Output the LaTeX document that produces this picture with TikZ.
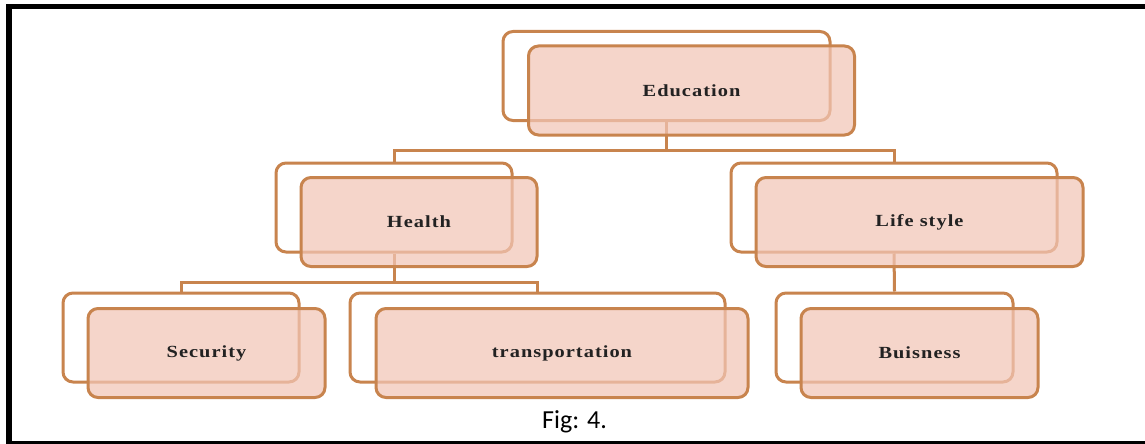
\documentclass[tikz,border=0pt]{standalone}
\usepackage{fontspec}
\setmainfont{Liberation Serif}
\newfontfamily\boxfont[LetterSpace=5]{Liberation Serif}
\newfontfamily\capfont{Carlito}
\definecolor{edge}{HTML}{C8844E}
\definecolor{pinkfill}{HTML}{F2C6B6}
\definecolor{txt}{HTML}{222222}
\newcommand{\boxtext}[1]{\scalebox{1.2}[1]{\boxfont\bfseries\fontsize{17}{19}\selectfont #1}}
\tikzset{
  backbox/.style={draw=edge, line width=3pt, rounded corners=10pt, fill=white,
    minimum height=89pt, inner sep=0pt},
  frontbox/.style={draw=edge, line width=3pt, rounded corners=10pt,
    fill=pinkfill, fill opacity=0.72, text opacity=1, text=txt,
    minimum height=89pt, inner sep=0pt},
  conn/.style={draw=edge, line width=3pt},
  frameline/.style={draw=black}
}
\begin{document}
\begin{tikzpicture}[x=1pt,y=-1pt]
\useasboundingbox (0,0) rectangle (1145,444);
\fill[white] (0,0) rectangle (1145,444);
% frame
\draw[frameline, line width=5pt] (9,7) -- (1145,7);
\draw[frameline, line width=6pt] (9,4.5) -- (9,444);
\draw[frameline, line width=3pt] (6,442.5) -- (1145,442.5);
% back boxes
\node[backbox, minimum width=327pt] (eduB) at (666.5,76) {};
\node[backbox, minimum width=236pt] (heaB) at (394,207.5) {};
\node[backbox, minimum width=326pt] (lifB) at (894,207.5) {};
\node[backbox, minimum width=236pt] (secB) at (181,337.5) {};
\node[backbox, minimum width=375pt] (traB) at (537.5,337.5) {};
\node[backbox, minimum width=237pt] (busB) at (894.5,337.5) {};
% connectors
\draw[conn] (eduB.south) -- ++(0,28) -| (heaB.north);
\draw[conn] (eduB.south) ++(0,28) -| (lifB.north);
\draw[conn] (heaB.south) -- ++(0,28.5) -| (secB.north);
\draw[conn] (heaB.south) ++(0,28.5) -| (traB.north);
\draw[conn] (lifB.south) -- (busB.north);
% front boxes
\node[frontbox, minimum width=326pt] (edu) at (691.5,90.5) {\boxtext{Education}};
\node[frontbox, minimum width=236pt] (hea) at (419,222) {\boxtext{Health}};
\node[frontbox, minimum width=327pt] (lif) at (919.5,222) {\boxtext{Life style}};
\node[frontbox, minimum width=237pt] (sec) at (206.5,353) {\boxtext{Security}};
\node[frontbox, minimum width=372pt] (tra) at (562,353) {\boxtext{transportation}};
\node[frontbox, minimum width=237pt] (bus) at (919.5,353) {\boxtext{Buisness}};
% caption
\node[anchor=base, inner sep=0pt, font=\capfont\fontsize{26}{30}\selectfont] (cap) at (574.5,428) {Fig: 4.};
\end{tikzpicture}
\end{document}
